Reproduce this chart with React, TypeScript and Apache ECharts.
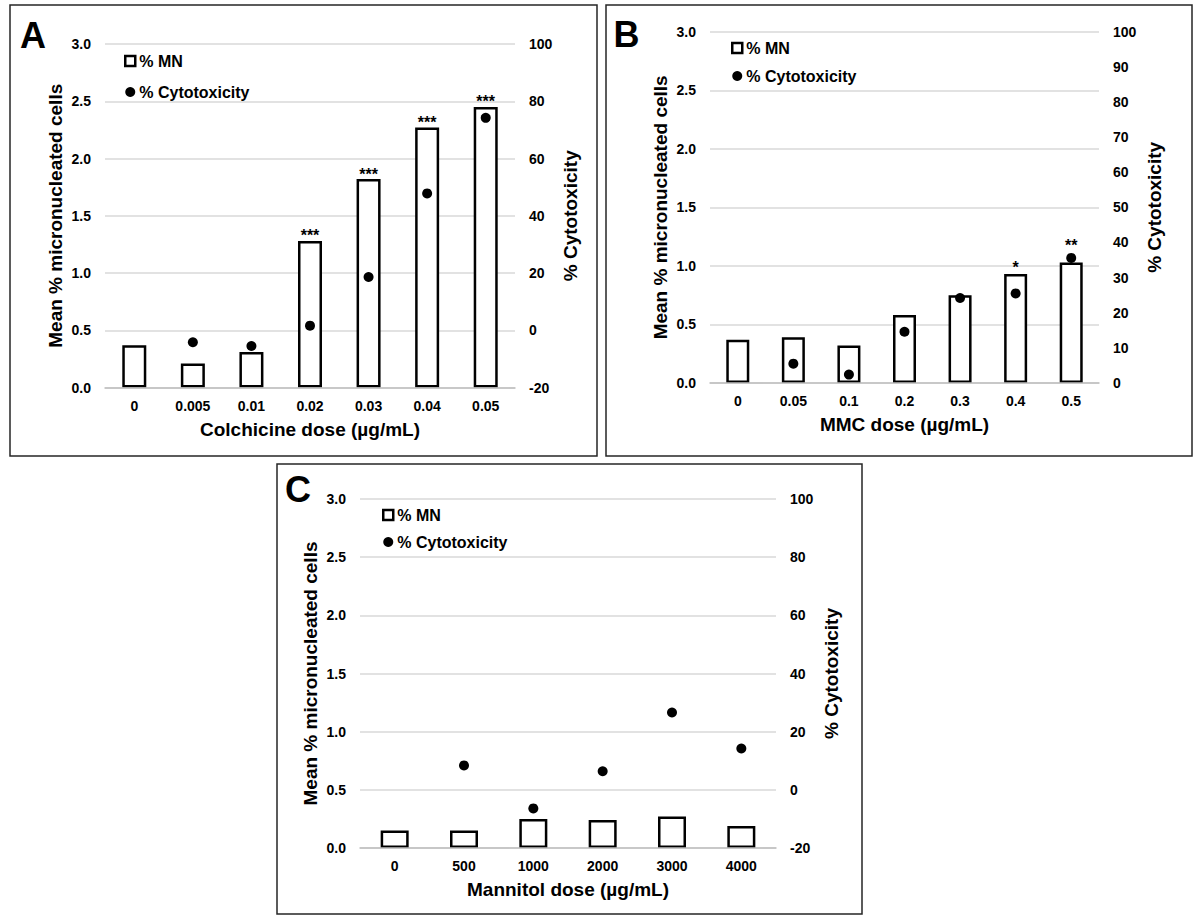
import React, { useEffect, useRef } from "react";
import * as echarts from "echarts";

// ---------- data ----------
const colchicineDoses = ["0", "0.005", "0.01", "0.02", "0.03", "0.04", "0.05"];
const colchicineMN = [0.37, 0.21, 0.31, 1.28, 1.82, 2.27, 2.45];
const colchicineCyto: (number | null)[] = [null, -4.2, -5.5, 1.6, 18.6, 47.8, 74.2];
const colchicineSig = ["", "", "", "***", "***", "***", "***"];

const mmcDoses = ["0", "0.05", "0.1", "0.2", "0.3", "0.4", "0.5"];
const mmcMN = [0.37, 0.39, 0.32, 0.58, 0.75, 0.93, 1.03];
const mmcCyto: (number | null)[] = [null, 5.5, 2.4, 14.6, 24.2, 25.5, 35.6];
const mmcSig = ["", "", "", "", "", "*", "**"];

const mannitolDoses = ["0", "500", "1000", "2000", "3000", "4000"];
const mannitolMN = [0.15, 0.15, 0.25, 0.24, 0.27, 0.19];
const mannitolCyto: (number | null)[] = [null, 8.4, -6.4, 6.4, 26.6, 14.2];
const mannitolSig = ["", "", "", "", "", ""];

const leftTicks = { min: 0, max: 3, interval: 0.5 };
const mnName = "% MN";
const cytoName = "% Cytotoxicity";
const leftAxisName = "Mean % micronucleated cells";

const FONT = '"Liberation Sans", Arial, Helvetica, sans-serif';

type Panel = {
  letter: string;
  letterPos: [number, number];
  border: { x: number; y: number; width: number; height: number };
  grid: { left: number; top: number; width: number; height: number };
  cats: string[];
  mn: number[];
  cyto: (number | null)[];
  sig: string[];
  sigDistance: number[];
  xName: string;
  right: { min: number; max: number; interval: number };
  barWidth: number;
  legend: { left: number; top: number; itemGap: number };
};

const panels: Panel[] = [
  {
    letter: "A",
    letterPos: [33, 35],
    border: { x: 10, y: 5, width: 587, height: 451 },
    grid: { left: 105, top: 44, width: 410, height: 343.5 },
    cats: colchicineDoses,
    mn: colchicineMN,
    cyto: colchicineCyto,
    sig: colchicineSig,
    sigDistance: [0, 0, 0, -3, -3, -3, -3],
    xName: "Colchicine dose (µg/mL)",
    right: { min: -20, max: 100, interval: 20 },
    barWidth: 24,
    legend: { left: 119, top: 48, itemGap: 15 },
  },
  {
    letter: "B",
    letterPos: [626.5, 34.5],
    border: { x: 606, y: 5, width: 586, height: 451 },
    grid: { left: 710, top: 31.7, width: 389, height: 351.3 },
    cats: mmcDoses,
    mn: mmcMN,
    cyto: mmcCyto,
    sig: mmcSig,
    sigDistance: [0, 0, 0, 0, 0, -1, 9],
    xName: "MMC dose (µg/mL)",
    right: { min: 0, max: 100, interval: 10 },
    barWidth: 23,
    legend: { left: 726, top: 35, itemGap: 12 },
  },
  {
    letter: "C",
    letterPos: [298, 489],
    border: { x: 277, y: 464, width: 585, height: 450 },
    grid: { left: 360, top: 499, width: 416, height: 349 },
    cats: mannitolDoses,
    mn: mannitolMN,
    cyto: mannitolCyto,
    sig: mannitolSig,
    sigDistance: [0, 0, 0, 0, 0, 0],
    xName: "Mannitol dose (µg/mL)",
    right: { min: -20, max: 100, interval: 20 },
    barWidth: 28,
    legend: { left: 377, top: 502, itemGap: 11 },
  },
];

const labelStyle = { fontSize: 14, fontWeight: "bold" as const, color: "#000", fontFamily: FONT };
const nameStyle = { fontSize: 19, fontWeight: "bold" as const, color: "#000", fontFamily: FONT };

function buildOption() {
  const grid: any[] = [];
  const xAxis: any[] = [];
  const yAxis: any[] = [];
  const series: any[] = [];
  const legend: any[] = [];
  const graphic: any[] = [];

  panels.forEach((p, i) => {
    grid.push({ ...p.grid, containLabel: false });
    xAxis.push({
      type: "category",
      gridIndex: i,
      data: p.cats,
      z: 3,
      axisTick: { show: false },
      axisLine: { lineStyle: { color: "#bfbfbf", width: 1.5 } },
      axisLabel: { ...labelStyle, margin: 11, interval: 0 },
      name: p.xName,
      nameLocation: "middle",
      nameGap: 32,
      nameTextStyle: nameStyle,
    });
    yAxis.push({
      type: "value",
      gridIndex: i,
      position: "left",
      min: leftTicks.min,
      max: leftTicks.max,
      interval: leftTicks.interval,
      axisLine: { show: false },
      axisTick: { show: false },
      splitLine: { lineStyle: { color: "#d9d9d9", width: 1.5 } },
      axisLabel: { ...labelStyle, margin: 14, formatter: (v: number) => v.toFixed(1) },
      name: leftAxisName,
      nameLocation: "middle",
      nameRotate: 90,
      nameGap: 40,
      nameTextStyle: nameStyle,
    });
    yAxis.push({
      type: "value",
      gridIndex: i,
      position: "right",
      min: p.right.min,
      max: p.right.max,
      interval: p.right.interval,
      axisLine: { show: false },
      axisTick: { show: false },
      splitLine: { show: false },
      axisLabel: { ...labelStyle, margin: 14 },
      name: cytoName,
      nameLocation: "middle",
      nameRotate: 90,
      nameGap: 46,
      nameTextStyle: nameStyle,
    });
    const sig = p.sig;
    series.push({
      type: "bar",
      name: mnName,
      xAxisIndex: i,
      yAxisIndex: i * 2,
      barWidth: p.barWidth,
      itemStyle: { color: "#fff", borderColor: "#000", borderWidth: 2.5 },
      label: {
        show: true,
        position: "top",
        formatter: (q: any) => sig[q.dataIndex] || "",
        fontSize: 16,
        fontWeight: "bold",
        color: "#000",
        fontFamily: FONT,
      },
      data: p.mn.map((v, k) => ({ value: v, label: { distance: p.sigDistance[k] } })),
    });
    series.push({
      type: "scatter",
      name: cytoName,
      xAxisIndex: i,
      yAxisIndex: i * 2 + 1,
      data: p.cyto.map((v) => (v === null ? "-" : v)),
      symbol: "circle",
      symbolSize: 10,
      itemStyle: { color: "#000", opacity: 1 },
      z: 4,
    });
    legend.push({
      orient: "vertical",
      left: p.legend.left,
      top: p.legend.top,
      itemGap: p.legend.itemGap,
      itemWidth: 10,
      itemHeight: 10,
      selectedMode: false,
      textStyle: {
        fontSize: 16,
        fontWeight: "bold",
        color: "#000",
        fontFamily: FONT,
        padding: [0, 0, 0, -1],
      },
      data: [
        { name: mnName, icon: "rect", itemStyle: { color: "#fff", borderColor: "#000", borderWidth: 2.5 } },
        { name: cytoName, icon: "circle", itemStyle: { color: "#000", opacity: 1 } },
      ],
    });
    graphic.push({
      type: "rect",
      shape: { ...p.border },
      style: { fill: "none", stroke: "#262626", lineWidth: 1.5 },
      silent: true,
    });
    graphic.push({
      type: "text",
      x: p.letterPos[0],
      y: p.letterPos[1],
      style: {
        text: p.letter,
        fontSize: 36,
        fontWeight: "bold",
        fontFamily: FONT,
        fill: "#000",
        align: "center",
        verticalAlign: "middle",
      },
      silent: true,
    });
  });

  return {
    animation: false,
    backgroundColor: "#fff",
    textStyle: { fontFamily: FONT },
    grid,
    xAxis,
    yAxis,
    series,
    legend,
    graphic,
  };
}

export default function App() {
  const ref = useRef<HTMLDivElement>(null);
  useEffect(() => {
    if (!ref.current) return;
    const chart = echarts.init(ref.current, null, { renderer: "svg", width: 1200, height: 920 });
    chart.setOption(buildOption());
    return () => chart.dispose();
  }, []);
  return (
    <div
      ref={ref}
      style={{ position: "absolute", left: 0, top: 0, width: 1200, height: 920, background: "#fff" }}
    />
  );
}
